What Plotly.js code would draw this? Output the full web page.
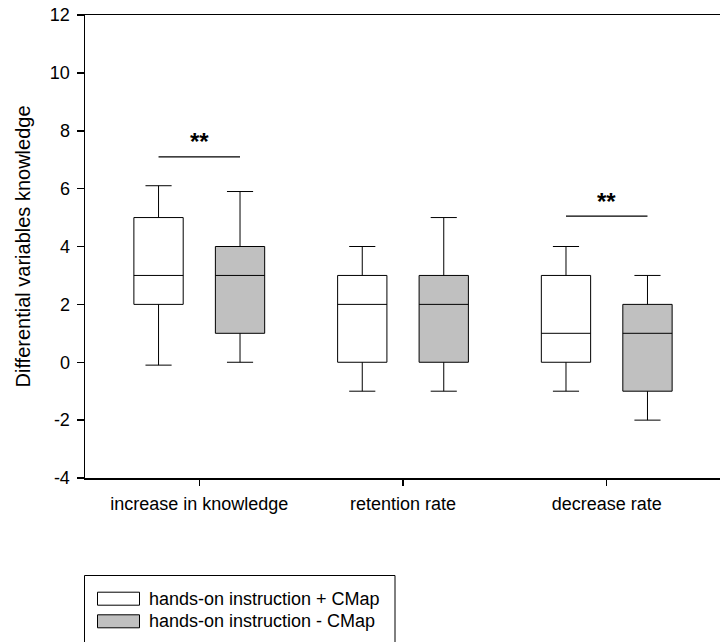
<!DOCTYPE html>
<html>
<head>
<meta charset="utf-8">
<script src="https://cdn.plot.ly/plotly-3.0.1.min.js"></script>
<style>html,body{margin:0;padding:0;background:#fff;}#chart{width:720px;height:642px;}</style>
</head>
<body>
<div id="chart"></div>
<script>
// ---- data ----
const categories = ['increase in knowledge', 'retention rate', 'decrease rate'];
const seriesNames = ['hands-on instruction + CMap', 'hands-on instruction - CMap'];
const seriesColors = ['#ffffff', '#c0c0c0'];

// hands-on instruction + CMap
const plusLower  = [-0.1, -1, -1];
const plusQ1     = [2, 0, 0];
const plusMedian = [3, 2, 1];
const plusQ3     = [5, 3, 3];
const plusUpper  = [6.1, 4, 4];

// hands-on instruction - CMap
const minusLower  = [0, -1, -2];
const minusQ1     = [1, 0, -1];
const minusMedian = [3, 2, 1];
const minusQ3     = [4, 3, 2];
const minusUpper  = [5.9, 5, 3];

// significance markers
const sigCategories = ['increase in knowledge', 'decrease rate'];
const sigY = [7.1, 5.05];
const sigLabels = ['**', '**'];

const yTicks = [-4, -2, 0, 2, 4, 6, 8, 10, 12];

// ---- layout constants ----
const W = 720, H = 642;
const M = {l: 85, r: 0, t: 15, b: 164};
const plotW = W - M.l - M.r, plotH = H - M.t - M.b;
const px2x = px => (px - M.l) / plotW;
const py2y = py => (H - M.b - py) / plotH;
const FONT = 'Liberation Sans, Arial, sans-serif';

function boxTrace(i, lower, q1, med, q3, upper) {
  return {
    type: 'box',
    name: seriesNames[i],
    x: categories,
    lowerfence: lower, q1: q1, median: med, q3: q3, upperfence: upper,
    boxpoints: false,
    fillcolor: seriesColors[i],
    line: {color: '#000000', width: 1},
    whiskerwidth: 0.53,
    showlegend: false,
    hoverinfo: 'skip'
  };
}

const traces = [
  boxTrace(0, plusLower, plusQ1, plusMedian, plusQ3, plusUpper),
  boxTrace(1, minusLower, minusQ1, minusMedian, minusQ3, minusUpper)
];

const shapes = [];
const annotations = [];

sigCategories.forEach((c, k) => {
  const idx = categories.indexOf(c);
  shapes.push({type: 'line', xref: 'x', yref: 'y', x0: idx - 0.2, x1: idx + 0.2,
    y0: sigY[k], y1: sigY[k], line: {color: '#000', width: 1.2}});
  annotations.push({xref: 'x', yref: 'y', x: idx, y: sigY[k], text: '<b>' + sigLabels[k] + '</b>',
    showarrow: false, yanchor: 'middle', yshift: 15, font: {family: FONT, size: 24, color: '#000'}});
});

// legend drawn manually
shapes.push({type: 'rect', xref: 'paper', yref: 'paper',
  x0: px2x(84.5), x1: px2x(395), y0: py2y(575.5), y1: py2y(660),
  line: {color: '#000', width: 1}, fillcolor: 'rgba(0,0,0,0)'});
const legendRows = [598.7, 621.3];
seriesNames.forEach((n, i) => {
  shapes.push({type: 'rect', xref: 'paper', yref: 'paper',
    x0: px2x(97.5), x1: px2x(139.5), y0: py2y(legendRows[i] - 6.5), y1: py2y(legendRows[i] + 6.5),
    line: {color: '#000', width: 1}, fillcolor: seriesColors[i]});
  annotations.push({xref: 'paper', yref: 'paper', x: px2x(147), y: py2y(legendRows[i]),
    xanchor: 'left', yanchor: 'middle', text: n, showarrow: false,
    font: {family: FONT, size: 18, color: '#000'}});
});

const layout = {
  width: W, height: H,
  margin: M,
  paper_bgcolor: '#fff', plot_bgcolor: '#fff',
  font: {family: FONT, size: 18, color: '#000'},
  boxmode: 'group', boxgap: 0.2, boxgroupgap: 0.395,
  showlegend: false,
  xaxis: {
    type: 'category', categoryorder: 'array', categoryarray: categories,
    range: [-0.561, 2.556],
    showline: true, linecolor: '#000', linewidth: 1.5, mirror: true,
    ticks: 'outside', ticklen: 6, tickwidth: 1.5, tickcolor: '#000',
    ticklabelstandoff: 3,
    showgrid: false, zeroline: false,
    tickfont: {family: FONT, size: 18, color: '#000'}
  },
  yaxis: {
    range: [-4, 12], tickvals: yTicks, ticktext: yTicks.map(String),
    showline: true, linecolor: '#000', linewidth: 1.5, mirror: false,
    ticks: 'outside', ticklen: 7, tickwidth: 1.5, tickcolor: '#000',
    ticklabelstandoff: 3,
    showgrid: false, zeroline: false,
    tickfont: {family: FONT, size: 18, color: '#000'},
    title: {text: 'Differential variables knowledge', font: {family: FONT, size: 20, color: '#000'}, standoff: 14}
  },
  shapes: shapes,
  annotations: annotations
};

Plotly.newPlot('chart', traces, layout, {displayModeBar: false, staticPlot: true});
</script>
</body>
</html>
